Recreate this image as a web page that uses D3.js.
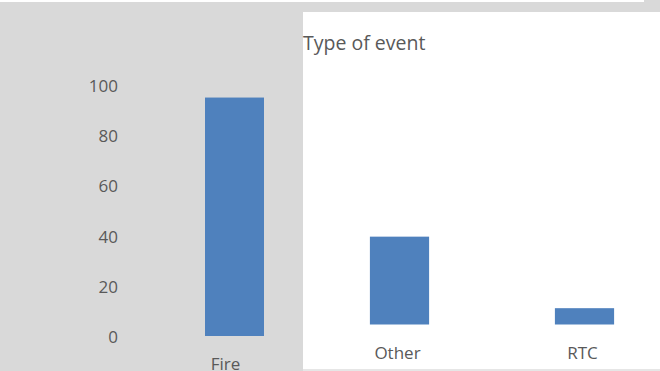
<!DOCTYPE html>
<html><head><meta charset="utf-8">
<script src="https://cdn.jsdelivr.net/npm/d3@7"></script>
<style>html,body{margin:0;padding:0;background:#fff;}svg{display:block;}</style>
</head><body>
<svg id="chart" width="660" height="371"></svg>
<script>
const title = "Type of event";
const categories = ["Fire", "Other", "RTC"];
const values = [95, 35, 6.5];
const yTicks = [0, 20, 40, 60, 80, 100];

const svg = d3.select("#chart");
const font = "'Open Sans', sans-serif";
const textColor = "#595959";
const barColor = "#4f81bd";
const gray = "#d9d9d9";

// backgrounds (composite of two panels)
svg.append("rect").attr("x", 0).attr("y", 0).attr("width", 660).attr("height", 371).attr("fill", gray);
svg.append("rect").attr("x", 0).attr("y", 0).attr("width", 644).attr("height", 2).attr("fill", "#fff");
svg.append("rect").attr("x", 303).attr("y", 12).attr("width", 357).attr("height", 357).attr("fill", "#fff");
svg.append("rect").attr("x", 303).attr("y", 369).attr("width", 357).attr("height", 2).attr("fill", "#e6e6e6");

const data = categories.map((c, i) => ({cat: c, val: values[i]}));
const left = data.slice(0, 1), right = data.slice(1);

// left panel scales
const xL = d3.scaleBand().domain(left.map(d => d.cat)).range([175.5, 293.5]).paddingInner(0.5).paddingOuter(0.25);
const yL = d3.scaleLinear().domain([0, 100]).range([336, 85]);
// right panel scales (shifted panel)
const xR = d3.scaleBand().domain(right.map(d => d.cat)).range([307, 677]).paddingInner(0.68).paddingOuter(0.34);
const yR = d3.scaleLinear().domain([0, 100]).range([324.5, 73.5]);

// y axis labels
const yAxis = d3.axisLeft(yL).tickValues(yTicks).tickSize(0).tickPadding(0);
const ga = svg.append("g").attr("transform", "translate(118,1)").call(yAxis);
ga.select(".domain").remove();
ga.selectAll("text").attr("font-family", font).attr("font-size", 17).attr("fill", textColor);

// bars
svg.append("g").selectAll("rect").data(left).join("rect")
  .attr("x", d => xL(d.cat)).attr("width", xL.bandwidth())
  .attr("y", d => yL(d.val)).attr("height", d => yL(0) - yL(d.val))
  .attr("fill", barColor);
svg.append("g").selectAll("rect").data(right).join("rect")
  .attr("x", d => xR(d.cat)).attr("width", xR.bandwidth())
  .attr("y", d => yR(d.val)).attr("height", d => yR(0) - yR(d.val))
  .attr("fill", barColor);

// category labels
svg.append("g").selectAll("text").data(left).join("text")
  .attr("x", d => xL(d.cat) + xL.bandwidth() / 2 - 9).attr("y", 369.5)
  .attr("text-anchor", "middle").attr("font-family", font).attr("font-size", 17).attr("fill", textColor)
  .text(d => d.cat);
svg.append("g").selectAll("text").data(right).join("text")
  .attr("x", d => xR(d.cat) + xR.bandwidth() / 2 - 2).attr("y", 358.5)
  .attr("text-anchor", "middle").attr("font-family", font).attr("font-size", 17).attr("fill", textColor)
  .text(d => d.cat);

// title
svg.append("text").attr("x", 303).attr("y", 50).attr("font-family", font).attr("font-size", 19.5)
  .attr("fill", textColor).text(title);
</script>
</body></html>
